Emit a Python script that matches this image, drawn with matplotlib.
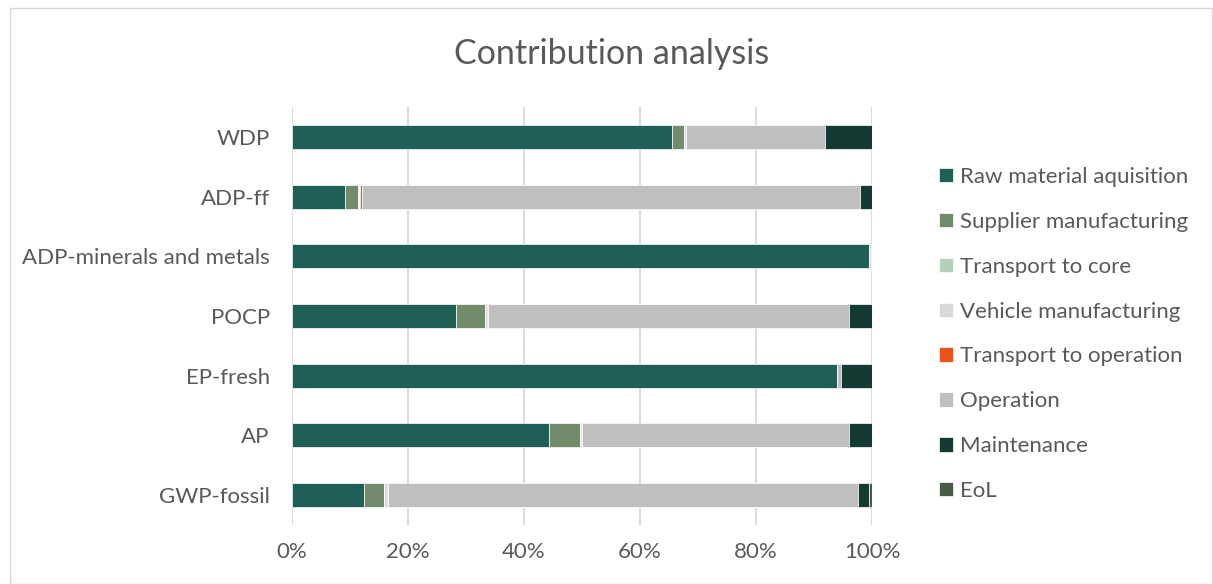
import matplotlib
matplotlib.use("Agg")
import matplotlib.pyplot as plt
import numpy as np
from matplotlib.patches import Rectangle

categories = ["WDP", "ADP-ff", "ADP-minerals and metals", "POCP", "EP-fresh", "AP", "GWP-fossil"]
series_names = ["Raw material aquisition", "Supplier manufacturing", "Transport to core",
                "Vehicle manufacturing", "Transport to operation", "Operation", "Maintenance", "EoL"]
raw = [65.5, 9.2, 99.4, 28.2, 93.9, 44.3, 12.4]
supplier = [2.1, 2.2, 0.05, 5.0, 0.1, 5.4, 3.4]
transport_core = [0.05, 0.1, 0.0, 0.1, 0.0, 0.05, 0.1]
vehicle = [0.2, 0.3, 0.3, 0.4, 0.0, 0.1, 0.5]
transport_op = [0.1, 0.2, 0.0, 0.15, 0.0, 0.2, 0.2]
operation = [24.0, 86.0, 0.2, 62.15, 0.7, 46.0, 81.0]
maintenance = [8.0, 2.0, 0.05, 4.0, 5.3, 3.95, 1.9]
eol = [0.05, 0.0, 0.0, 0.0, 0.0, 0.0, 0.5]
xticklabels = ["0%", "20%", "40%", "60%", "80%", "100%"]

colors = ["#1F5F55", "#718B6B", "#B3D1BA", "#D8D9DB", "#E8541A", "#BFBFBF", "#133B33", "#4A5A48"]

data = np.array([raw, supplier, transport_core, vehicle, transport_op, operation, maintenance, eol], dtype=float)
data = data / data.sum(axis=0, keepdims=True)

plt.rcParams['font.family'] = ['Lato', 'DejaVu Sans']
txt = "#595959"

fig = plt.figure(figsize=(12.13, 5.84), dpi=100)
fig.patches.append(Rectangle((0.008, 0.0), 0.991, 0.986, transform=fig.transFigure,
                             fill=False, edgecolor="#D9D9D9", linewidth=1.0))
ax = fig.add_axes([0.2407, 0.101, 0.4782, 0.7158])

y = np.arange(len(categories))
left = np.zeros(len(categories))
for i, name in enumerate(series_names):
    ax.barh(y, data[i], left=left, height=0.4, color=colors[i], edgecolor="white",
            linewidth=0.5, label=name, zorder=3)
    left += data[i]

ax.set_xlim(0, 1)
ax.set_ylim(len(categories) - 0.5, -0.5)
ax.set_yticks(y)
ax.set_yticklabels(categories)
ax.set_xticks(np.linspace(0, 1, 6))
ax.set_xticklabels(xticklabels)
ax.tick_params(axis='both', length=0, labelsize=16, colors=txt)
ax.tick_params(axis='y', pad=16)
ax.tick_params(axis='x', pad=12)
ax.grid(axis='x', color="#D9D9D9", linewidth=1.3, zorder=0)
for s in ax.spines.values():
    s.set_visible(False)

fig.text(0.504, 0.908, "Contribution analysis", ha="center", va="center", fontsize=24.5, color=txt)

leg = ax.legend(loc="upper left", bbox_to_anchor=(1.1, 0.878), frameon=False,
                fontsize=16, labelcolor=txt, handlelength=0.62, handleheight=0.62,
                handletextpad=0.35, labelspacing=1.12, borderaxespad=0)

fig.savefig("out.png", dpi=100)
